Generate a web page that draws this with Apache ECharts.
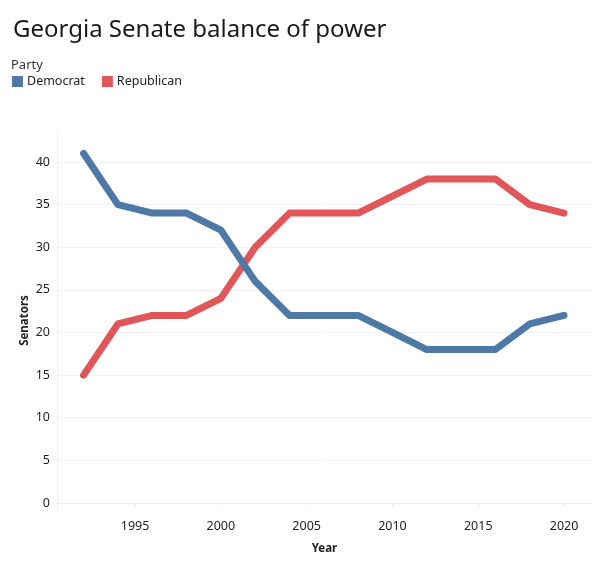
<!DOCTYPE html>
<html><head><meta charset="utf-8">
<script src="https://cdn.jsdelivr.net/npm/echarts@6/dist/echarts.min.js"></script>
<style>html,body{margin:0;padding:0;background:#fff}#c{width:600px;height:570px}</style>
</head><body><div id="c"></div>
<script>
const years = [1992, 1994, 1996, 1998, 2000, 2002, 2004, 2006, 2008, 2010, 2012, 2014, 2016, 2018, 2020];
const democrat = [41, 35, 34, 34, 32, 26, 22, 22, 22, 20, 18, 18, 18, 21, 22];
const republican = [15, 21, 22, 22, 24, 30, 34, 34, 34, 36, 38, 38, 38, 35, 34];
const yTicks = [0, 5, 10, 15, 20, 25, 30, 35, 40];
const xTicks = [1995, 2000, 2005, 2010, 2015, 2020];
const seriesNames = ['Democrat', 'Republican'];
const colors = ['#4e79a7', '#e15759'];
const FONT = '"Noto Sans", "Open Sans", sans-serif';

const chart = echarts.init(document.getElementById('c'), null, {renderer: 'canvas'});
const mk = (arr) => years.map((y, i) => [y, arr[i]]);
chart.setOption({
  animation: false,
  textStyle: {fontFamily: FONT},
  title: {
    text: 'Georgia Senate balance of power',
    left: 8, top: 13,
    textStyle: {fontSize: 24, fontWeight: 'normal', color: '#1a1a1a', fontFamily: FONT}
  },
  graphic: [{
    type: 'text', left: 11, top: 59,
    style: {text: 'Party', fontSize: 13, fill: '#333', fontFamily: FONT}
  }],
  legend: {
    left: 7, top: 70,
    icon: 'rect', itemWidth: 11, itemHeight: 11, itemGap: 17,
    textStyle: {fontSize: 12.5, color: '#222', fontFamily: FONT, padding: [0, 0, 0, -1]},
    data: seriesNames
  },
  grid: {left: 57, right: 8, top: 130, bottom: 59, containLabel: false},
  xAxis: {
    type: 'value', min: 1990.45, max: 2021.63,
    name: 'Year', nameLocation: 'middle', nameGap: 32, nameMoveOverlap: false,
    nameTextStyle: {fontSize: 11.5, fontWeight: 'bold', color: '#222'},
    axisLine: {show: true, lineStyle: {color: '#eeeeee'}},
    axisTick: {show: true, customValues: xTicks, length: 4, lineStyle: {color: '#eeeeee'}},
    axisLabel: {customValues: xTicks, fontSize: 12.5, color: '#222', margin: 9,
      formatter: (v) => String(v)},
    splitLine: {show: false}
  },
  yAxis: {
    type: 'value', min: -0.94, max: 43.75,
    name: 'Senators', nameLocation: 'middle', nameGap: 26, nameMoveOverlap: false,
    nameTextStyle: {fontSize: 11.5, fontWeight: 'bold', color: '#222'},
    axisLine: {show: true, lineStyle: {color: '#eeeeee'}},
    axisTick: {show: false, customValues: yTicks},
    axisLabel: {customValues: yTicks, fontSize: 12.5, color: '#222', margin: 7,
      formatter: (v) => String(v)},
    splitLine: {show: true, lineStyle: {color: '#f2f2f2', width: 1}}
  },
  series: seriesNames.map((n, i) => ({
    name: n, type: 'line',
    data: mk(i === 0 ? democrat : republican),
    showSymbol: false, symbol: 'none',
    itemStyle: {color: colors[i]},
    lineStyle: {color: colors[i], width: 7, cap: 'round', join: 'round'},
    z: i === 0 ? 3 : 2
  }))
});
</script></body></html>
